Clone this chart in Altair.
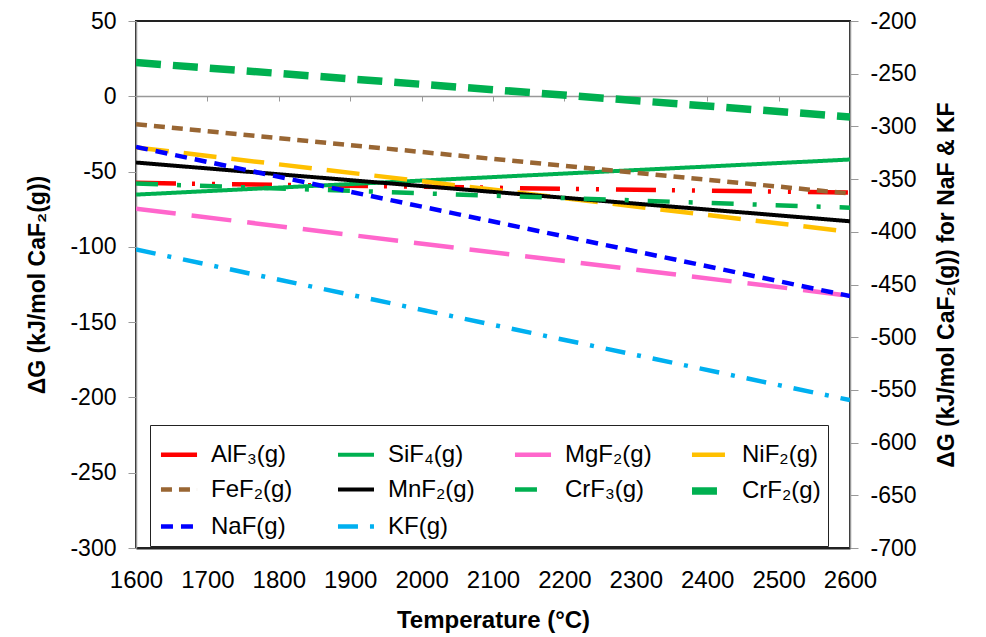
import altair as alt
import pandas as pd

# ---- data ----
temps = [1600, 2600]
series = ["AlF₃(g)", "SiF₄(g)", "MgF₂(g)", "NiF₂(g)",
          "FeF₂(g)", "MnF₂(g)", "CrF₃(g)", "CrF₂(g)",
          "NaF(g)", "KF(g)"]
axis_side = ["left", "left", "left", "left",
             "left", "left", "left", "left",
             "right", "right"]
dg_1600 = [-57.5, -65.3, -74.7, -34.0, -18.6, -44.0, -58.0, 22.4, -319.5, -416.8]
dg_2600 = [-64.0, -42.0, -132.5, -90.0, -64.6, -83.0, -74.0, -13.7, -461.0, -559.7]

colors = ["#FF0000", "#00B050", "#FF66CC", "#FFC000",
          "#996633", "#000000", "#00B050", "#00B050",
          "#0000FF", "#00B0F0"]
dashes = [[40, 16, 3, 17, 3, 17], [1, 0], [40, 16], [33, 15],
          [11, 7], [1, 0], [22, 19, 4, 19], [25, 12],
          [12, 8], [20, 12, 4, 12]]
widths = [4.5, 4, 4.5, 4.5, 4.5, 4, 4.5, 7.5, 4.5, 4.5]

x_ticks = [1600, 1700, 1800, 1900, 2000, 2100, 2200, 2300, 2400, 2500, 2600]
left_ticks = [50, 0, -50, -100, -150, -200, -250, -300]
right_ticks = [-200, -250, -300, -350, -400, -450, -500, -550, -600, -650, -700]

rows = []
for s, side, a, b in zip(series, axis_side, dg_1600, dg_2600):
    rows.append({"series": s, "side": side, "T": temps[0], "dG": a})
    rows.append({"series": s, "side": side, "T": temps[1], "dG": b})
df = pd.DataFrame(rows)

FONT = "Liberation Sans"

legend = alt.Legend(
    title=None, orient="none", legendX=14, legendY=404, columns=4,
    direction="horizontal",
    symbolType="stroke", symbolSize=1300, labelFontSize=24, labelFont=FONT,
    labelColor="black", strokeColor="#222222", fillColor="white", padding=7,
    columnPadding=24, rowPadding=0, labelOffset=10, labelLimit=300,
    gridAlign="all",
)

color_enc = alt.Color("series:N", scale=alt.Scale(domain=series, range=colors),
                      legend=legend, sort=series)
dash_enc = alt.StrokeDash("series:N", scale=alt.Scale(domain=series, range=dashes),
                          legend=legend, sort=series)
width_enc = alt.StrokeWidth("series:N",
                            scale=alt.Scale(type="ordinal", domain=series, range=widths),
                            legend=legend, sort=series)

x_scale = alt.Scale(domain=[1600, 2600], nice=False, zero=False)
num_label = "'' + datum.value"

left = alt.Chart(df).transform_filter(alt.datum.side == "left").mark_line(
    strokeCap="butt", clip=True
).encode(
    x=alt.X("T:Q", scale=x_scale,
            axis=alt.Axis(values=x_ticks, title="Temperature (°C)", labelExpr=num_label,
                          labelOverlap=False, labelFlush=False, labelBound=False,
                          labelFontSize=24, labelFont=FONT, labelColor="black",
                          titleFontSize=24, titleFont=FONT, titleFontWeight="bold",
                          titleColor="black", titlePadding=16,
                          ticks=False, labelPadding=20, grid=False,
                          domainColor="#222222", domainWidth=2)),
    y=alt.Y("dG:Q", scale=alt.Scale(domain=[-300, 50], nice=False, zero=False),
            axis=alt.Axis(values=left_ticks, orient="left",
                          title="ΔG (kJ/mol CaF₂(g))", labelExpr=num_label,
                          labelOverlap=False,
                          labelFontSize=23, labelFont=FONT, labelColor="black",
                          titleFontSize=23, titleFont=FONT, titleFontWeight="bold",
                          titleColor="black", titlePadding=20,
                          tickSize=8, tickColor="#999999", labelPadding=12,
                          grid=False, domainColor="#999999", domainWidth=1.5)),
    color=color_enc, strokeDash=dash_enc, strokeWidth=width_enc,
    detail="series:N",
)

right = alt.Chart(df).transform_filter(alt.datum.side == "right").mark_line(
    strokeCap="butt", clip=True
).encode(
    x=alt.X("T:Q", scale=x_scale,
            axis=alt.Axis(values=x_ticks, title=None, labels=False,
                          orient="bottom", offset=-452,
                          tickSize=5, tickColor="#999999", grid=False,
                          domainColor="#999999", domainWidth=1.5)),
    y=alt.Y("dG:Q", scale=alt.Scale(domain=[-700, -200], nice=False, zero=False),
            axis=alt.Axis(values=right_ticks, orient="right",
                          title="ΔG (kJ/mol CaF₂(g)) for NaF & KF",
                          titleAngle=-90, labelExpr=num_label, labelOverlap=False,
                          labelFontSize=23, labelFont=FONT, labelColor="black",
                          titleFontSize=23, titleFont=FONT, titleFontWeight="bold",
                          titleColor="black", titlePadding=42,
                          tickSize=8, tickColor="#999999", labelPadding=12,
                          grid=False, domainColor="#999999", domainWidth=1.5)),
    color=color_enc, strokeDash=dash_enc, strokeWidth=width_enc,
    detail="series:N",
)

chart = alt.layer(left, right).resolve_scale(
    y="independent"
).resolve_axis(
    x="independent", y="independent"
).properties(
    width=714, height=527,
    padding={"left": 136, "top": 21, "right": 136, "bottom": 89},
    autosize=alt.AutoSizeParams(type="none"),
    background="white",
).configure_view(
    stroke="#222222", strokeWidth=2
)

chart.save("out.html", embed_options={"renderer": "svg", "actions": False})
